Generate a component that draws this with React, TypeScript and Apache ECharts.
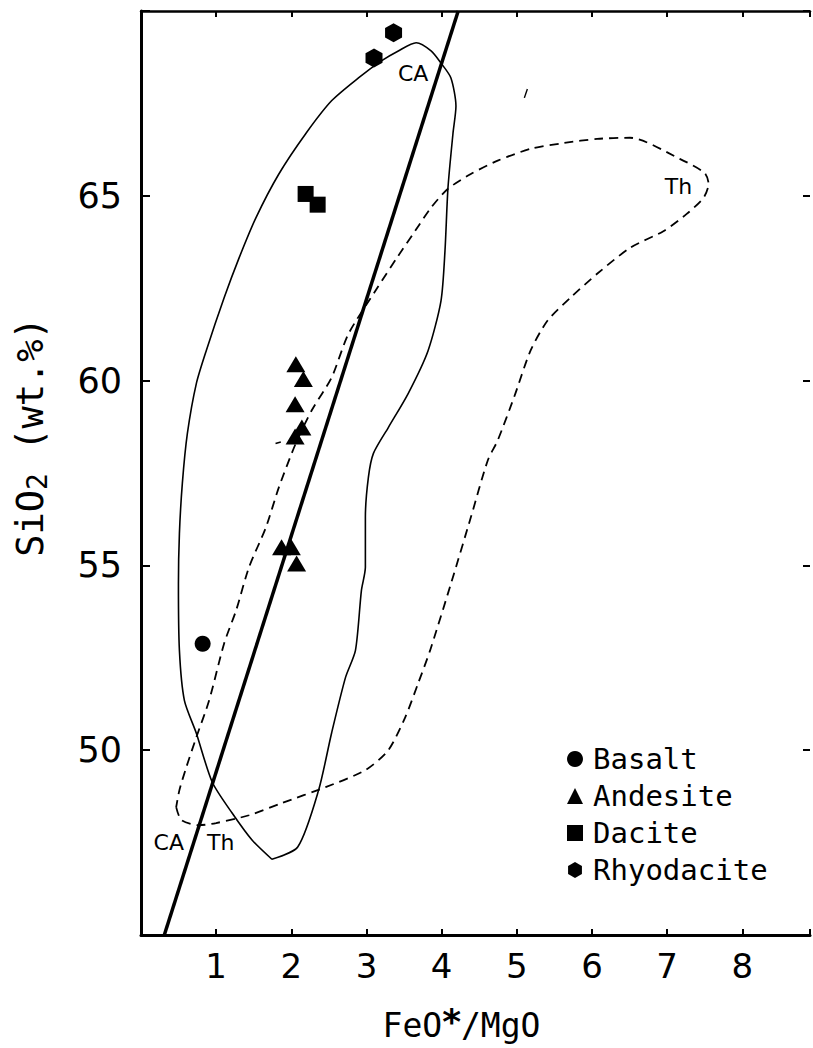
import React, { useEffect, useRef } from "react";
import * as echarts from "echarts";

// ---- data ----
const X_TICKS = [1, 2, 3, 4, 5, 6, 7, 8];
const Y_TICKS = [50, 55, 60, 65];

const BASALT: [number, number][] = [[0.82, 52.88]];
const ANDESITE: [number, number][] = [
  [2.06, 60.44],
  [2.16, 60.04],
  [2.05, 59.36],
  [2.14, 58.73],
  [2.05, 58.49],
  [1.87, 55.49],
  [2.0, 55.49],
  [2.07, 55.05],
];
const DACITE: [number, number][] = [
  [2.19, 65.05],
  [2.35, 64.76],
];
const RHYODACITE: [number, number][] = [
  [3.36, 69.41],
  [3.1, 68.73],
];

// calc-alkaline field boundary (solid)
const CA_FIELD: [number, number][] = [
  [1.741, 47.05], [2.085, 47.38], [2.363, 48.92], [2.535, 50.46], [2.721, 51.97],
  [2.853, 52.7], [2.932, 54.32], [2.985, 54.95], [2.985, 56.3], [3.025, 57.38],
  [3.092, 58.03], [3.29, 58.73], [3.554, 59.65], [3.819, 60.81], [3.991, 62.16],
  [4.044, 63.51], [4.084, 65.22], [4.15, 66.68], [4.19, 67.43], [4.123, 68.19],
  [3.991, 68.59], [3.859, 68.92], [3.661, 69.14], [3.423, 68.92], [3.198, 68.65],
  [2.893, 68.19], [2.535, 67.57], [2.191, 66.68], [1.834, 65.59], [1.53, 64.41],
  [1.305, 63.32], [1.106, 62.24], [0.868, 60.81], [0.736, 59.92], [0.617, 58.57],
  [0.55, 57.22], [0.511, 55.86], [0.498, 54.51], [0.511, 52.7], [0.577, 51.35],
  [0.736, 50.46], [0.947, 49.14], [1.212, 48.3], [1.477, 47.57], [1.741, 47.05],
];

// tholeiitic field boundary (dashed)
const TH_FIELD: [number, number][] = [
  [0.468, 48.46], [0.537, 48.11], [0.775, 47.97], [1.0, 48.03], [1.437, 48.24],
  [1.874, 48.57], [2.456, 49.0], [2.985, 49.46], [3.29, 50.0], [3.515, 50.89],
  [3.687, 51.81], [3.846, 52.7], [4.124, 54.51], [4.388, 56.3], [4.613, 57.84],
  [4.745, 58.38], [4.97, 59.59], [5.182, 60.81], [5.407, 61.62], [5.711, 62.24],
  [6.068, 62.89], [6.505, 63.59], [6.955, 64.05], [7.26, 64.51], [7.485, 64.95],
  [7.551, 65.32], [7.498, 65.62], [7.167, 66.0], [6.505, 66.57], [6.068, 66.54],
  [5.632, 66.43], [5.182, 66.27], [4.745, 65.95], [4.388, 65.59], [4.084, 65.19],
  [3.859, 64.68], [3.647, 64.05], [3.423, 63.38], [3.119, 62.43], [2.761, 61.27],
  [2.535, 60.08], [2.27, 59.19], [2.059, 58.3], [1.834, 57.11], [1.662, 56.03],
  [1.437, 54.95], [1.265, 53.78], [1.106, 52.89], [0.907, 51.35], [0.736, 50.35],
  [0.603, 49.54], [0.511, 48.92], [0.468, 48.46],
];

// CA / Th dividing line
const DIVIDE_LINE: [number, number][] = [
  [0.31, 45],
  [4.22, 70],
];

// small stray marks in the original figure
const STRAY_DASH: [number, number][] = [
  [1.79, 58.3],
  [1.86, 58.34],
];
const STRAY_TICK: [number, number][] = [
  [5.1, 67.65],
  [5.14, 67.89],
];

const FIELD_LABELS = [
  { name: "CA", value: [3.62, 68.3] },
  { name: "Th", value: [7.15, 65.24] },
  { name: "CA", value: [0.37, 47.49] },
  { name: "Th", value: [1.06, 47.49] },
];

const HEX = "path://M50,0 L93.3,25 L93.3,75 L50,100 L6.7,75 L6.7,25 Z";
const MONO = "DejaVu Sans Mono";
const SANS = "DejaVu Sans";

const isTick = (v: number, list: number[]) =>
  list.some((t) => Math.abs(t - v) < 1e-6);

export default function App() {
  const ref = useRef<HTMLDivElement>(null);

  useEffect(() => {
    document.body.style.margin = "0";
    const chart = echarts.init(ref.current!, null, { renderer: "svg" });

    const markerStyle = { color: "#000", opacity: 1 };

    const option: any = {
      animation: false,
      backgroundColor: "#fff",
      grid: { left: 141, right: -1, top: 11, bottom: 113, containLabel: false },
      legend: {
        orient: "vertical",
        left: 567,
        top: 744,
        padding: 0,
        itemGap: 7,
        itemWidth: 16,
        itemHeight: 16,
        data: ["Basalt", "Andesite", "Dacite", "Rhyodacite"],
        itemStyle: { opacity: 1 },
        textStyle: {
          fontFamily: MONO,
          fontSize: 29,
          color: "#000",
          lineHeight: 30,
          padding: [0, 0, 0, 5],
        },
        selectedMode: false,
      },
      xAxis: [
        {
          type: "value",
          min: 0,
          max: 8.9,
          interval: 1,
          position: "bottom",
          name: "FeO{sup|*}/MgO",
          nameLocation: "middle",
          nameGap: 74,
          nameTextStyle: {
            fontFamily: MONO,
            fontSize: 33,
            color: "#000",
            lineHeight: 33,
            padding: [0, 28, 0, 0],
            rich: {
              sup: {
                fontFamily: SANS,
                fontSize: 36,
                fontWeight: "bold",
                color: "#000",
                padding: [0, 0, 8, 0],
              },
            },
          },
          axisLine: { show: true, onZero: false, lineStyle: { color: "#000", width: 3 } },
          axisTick: { show: true, inside: true, length: 6, lineStyle: { color: "#000", width: 2 } },
          axisLabel: {
            show: true,
            margin: 14,
            fontFamily: SANS,
            fontSize: 34,
            lineHeight: 34,
            color: "#000",
            showMinLabel: true,
            showMaxLabel: true,
            formatter: (v: number) => (isTick(v, X_TICKS) ? String(Math.round(v)) : ""),
          },
          splitLine: { show: false },
        },
        {
          type: "value",
          min: 0,
          max: 8.9,
          interval: 1,
          position: "top",
          axisLine: { show: true, onZero: false, lineStyle: { color: "#000", width: 2.5 } },
          axisTick: { show: true, inside: true, length: 6, lineStyle: { color: "#000", width: 2 } },
          axisLabel: { show: false },
          splitLine: { show: false },
        },
      ],
      yAxis: [
        {
          type: "value",
          min: 45,
          max: 70,
          interval: 5,
          position: "left",
          name: "SiO{sub|2} (wt.%)",
          nameLocation: "middle",
          nameGap: 90,
          nameRotate: 90,
          nameTextStyle: {
            fontFamily: MONO,
            fontSize: 37,
            color: "#000",
            padding: [0, 0, 0, 72],
            rich: {
              sub: {
                fontFamily: MONO,
                fontSize: 28,
                color: "#000",
                padding: [14, 0, 0, 0],
              },
            },
          },
          axisLine: { show: true, onZero: false, lineStyle: { color: "#000", width: 3 } },
          axisTick: { show: true, inside: true, length: 9, lineStyle: { color: "#000", width: 2 } },
          axisLabel: {
            show: true,
            margin: 19,
            fontFamily: SANS,
            fontSize: 35,
            color: "#000",
            showMinLabel: true,
            showMaxLabel: true,
            formatter: (v: number) => (isTick(v, Y_TICKS) ? String(Math.round(v)) : ""),
          },
          splitLine: { show: false },
        },
        {
          type: "value",
          min: 45,
          max: 70,
          interval: 5,
          position: "right",
          axisLine: { show: false, onZero: false },
          axisTick: { show: true, inside: true, length: 7, lineStyle: { color: "#000", width: 2 } },
          axisLabel: { show: false },
          splitLine: { show: false },
        },
      ],
      series: [
        {
          name: "CA field",
          type: "line",
          data: CA_FIELD,
          symbol: "none",
          smooth: 0.25,
          silent: true,
          lineStyle: { color: "#000", width: 1.6 },
          z: 2,
        },
        {
          name: "Th field",
          type: "line",
          data: TH_FIELD,
          symbol: "none",
          smooth: 0.25,
          silent: true,
          lineStyle: { color: "#000", width: 1.8, type: [9, 6] },
          z: 2,
        },
        {
          name: "CA-Th boundary",
          type: "line",
          data: DIVIDE_LINE,
          symbol: "none",
          silent: true,
          lineStyle: { color: "#000", width: 3.5 },
          z: 3,
        },
        {
          name: "mark1",
          type: "line",
          data: STRAY_DASH,
          symbol: "none",
          silent: true,
          lineStyle: { color: "#000", width: 1.6 },
        },
        {
          name: "mark2",
          type: "line",
          data: STRAY_TICK,
          symbol: "none",
          silent: true,
          lineStyle: { color: "#000", width: 1.4 },
        },
        {
          name: "Basalt",
          type: "scatter",
          data: BASALT,
          symbol: "circle",
          symbolSize: 16,
          itemStyle: markerStyle,
          z: 5,
        },
        {
          name: "Andesite",
          type: "scatter",
          data: ANDESITE,
          symbol: "triangle",
          symbolSize: [19, 16],
          itemStyle: markerStyle,
          z: 5,
        },
        {
          name: "Dacite",
          type: "scatter",
          data: DACITE,
          symbol: "rect",
          symbolSize: 16,
          itemStyle: markerStyle,
          z: 5,
        },
        {
          name: "Rhyodacite",
          type: "scatter",
          data: RHYODACITE,
          symbol: HEX,
          symbolSize: [17, 19],
          itemStyle: markerStyle,
          z: 5,
        },
        {
          name: "field labels",
          type: "scatter",
          data: FIELD_LABELS,
          symbolSize: 1,
          silent: true,
          itemStyle: { color: "rgba(0,0,0,0)", opacity: 1 },
          label: {
            show: true,
            position: "inside",
            formatter: "{b}",
            fontFamily: SANS,
            fontSize: 22,
            color: "#000",
            opacity: 1,
          },
          z: 6,
        },
      ],
    };

    chart.setOption(option);
    return () => chart.dispose();
  }, []);

  return <div ref={ref} style={{ width: 813, height: 1048 }} />;
}
